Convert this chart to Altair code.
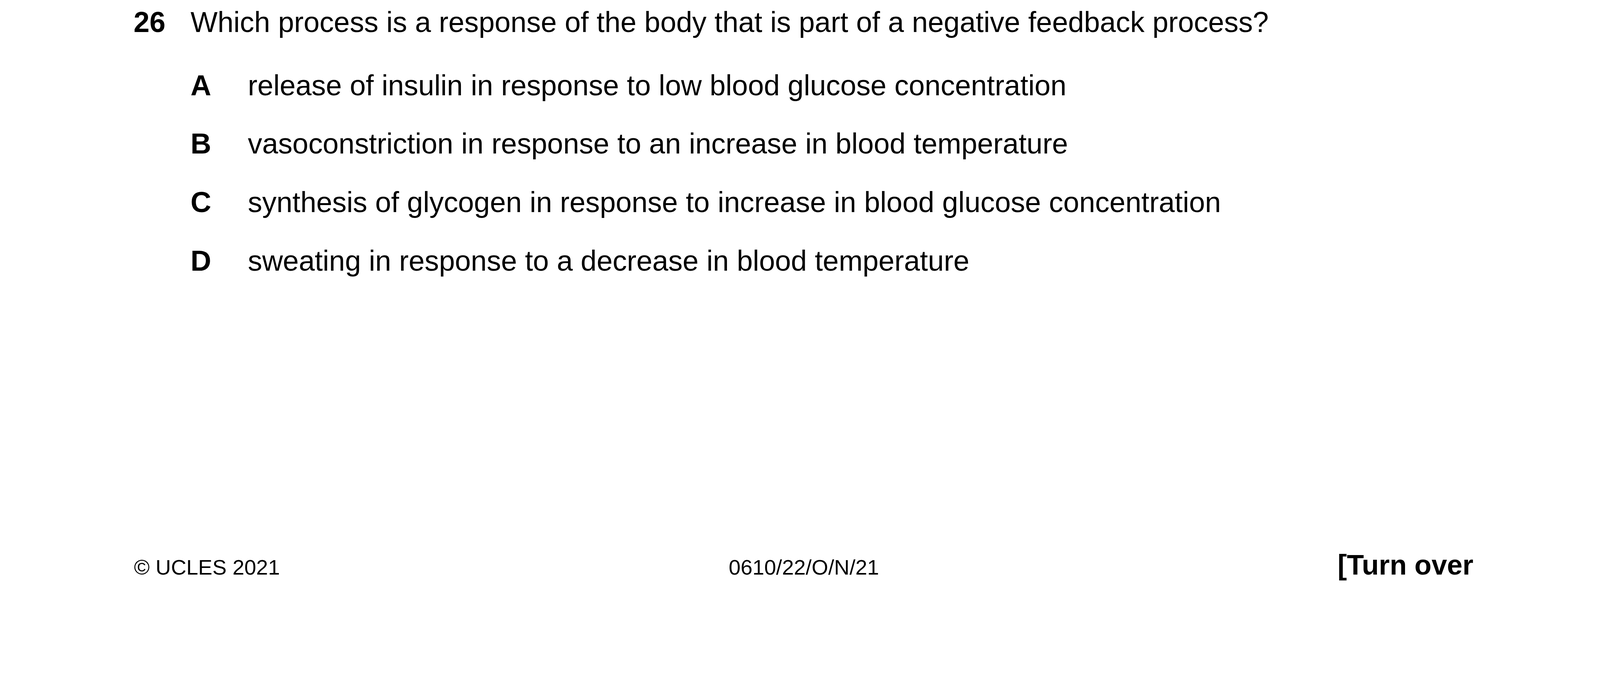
import altair as alt
import pandas as pd

# question text
q_number = ["26"]
q_stem = ["Which process is a response of the body that is part of a negative feedback process?"]
option_letters = ["A", "B", "C", "D"]
option_texts = [
    "release of insulin in response to low blood glucose concentration",
    "vasoconstriction in response to an increase in blood temperature",
    "synthesis of glycogen in response to increase in blood glucose concentration",
    "sweating in response to a decrease in blood temperature",
]
footer_left = ["© UCLES 2021"]
footer_mid = ["0610/22/O/N/21"]
footer_right = ["[Turn over"]

W, H = 4116, 1730
FONT = "Liberation Sans"

# page layout (pixel positions of baselines / left edges)
col_num, col_letter, col_text = 337, 484, 632
row_stem = 67
row_opts = [230, 381, 532, 683]
row_foot = 1468

rows = []
rows.append(dict(x=col_num, y=row_stem, t=q_number[0], s="num"))
rows.append(dict(x=col_letter, y=row_stem, t=q_stem[0], s="reg"))
for i, (l, t) in enumerate(zip(option_letters, option_texts)):
    rows.append(dict(x=col_letter, y=row_opts[i], t=l, s="num"))
    rows.append(dict(x=col_text, y=row_opts[i], t=t, s="reg"))
rows.append(dict(x=338, y=row_foot, t=footer_left[0], s="foot"))
rows.append(dict(x=1874, y=row_foot, t=footer_mid[0], s="foot"))
rows.append(dict(x=3797, y=row_foot, t=footer_right[0], s="turn"))
df = pd.DataFrame(rows)

xs = alt.Scale(domain=[0, W], nice=False, zero=False)
ys = alt.Scale(domain=[H, 0], nice=False, zero=False)
base = alt.Chart(df).encode(
    x=alt.X("x:Q", scale=xs, axis=None),
    y=alt.Y("y:Q", scale=ys, axis=None),
    text="t:N",
)

styles = {
    "num": dict(fontSize=74, fontWeight="bold", align="left"),
    "reg": dict(fontSize=74, align="left"),
    "foot": dict(fontSize=55, align="left"),
    "turn": dict(fontSize=72, fontWeight="bold", align="right"),
}
layers = [
    base.transform_filter(alt.datum.s == k).mark_text(
        font=FONT, baseline="alphabetic", color="black", **v
    )
    for k, v in styles.items()
]

chart = alt.layer(*layers).properties(
    width=W, height=H, padding=0, autosize=alt.AutoSizeParams(type="none")
).configure_view(stroke=None)

chart.save("out.html", embed_options={"renderer": "svg", "actions": False})
